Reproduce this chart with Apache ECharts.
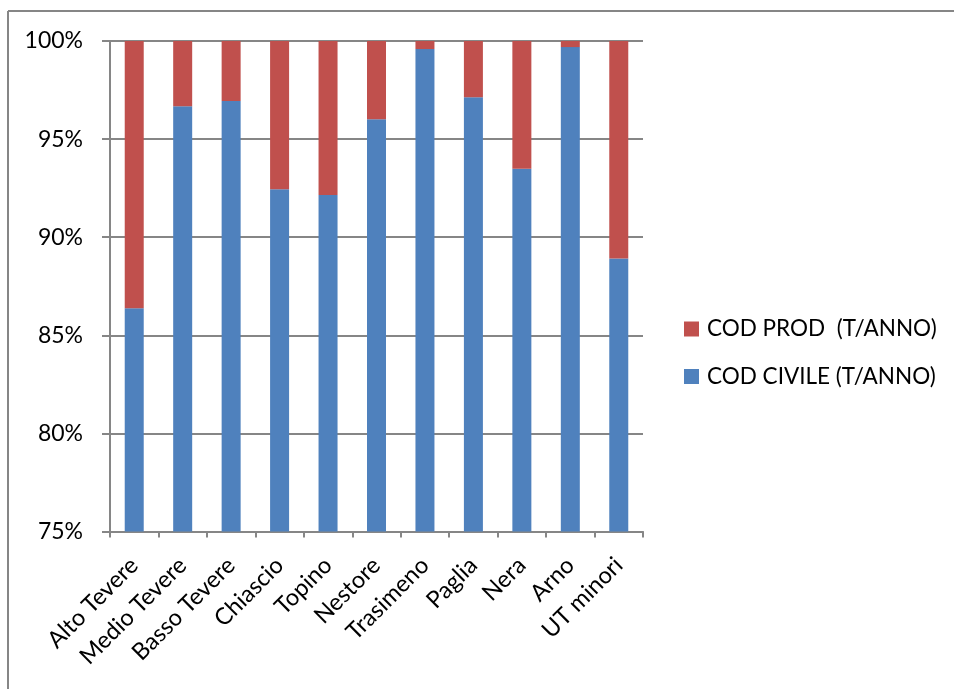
<!DOCTYPE html>
<html>
<head>
<meta charset="utf-8">
<script src="https://cdn.jsdelivr.net/npm/echarts@6/dist/echarts.min.js"></script>
<style>
  html, body { margin: 0; padding: 0; background: #fff; }
  #chart { width: 954px; height: 689px; }
</style>
</head>
<body>
<div id="chart"></div>
<script>
// Sub-basins
const categories = ['Alto Tevere', 'Medio Tevere', 'Basso Tevere', 'Chiascio', 'Topino',
  'Nestore', 'Trasimeno', 'Paglia', 'Nera', 'Arno', 'UT minori'];

// Share of COD load (%) per sub-basin
const codCivile = [86.38, 96.67, 96.94, 92.44, 92.15, 96.01, 99.59, 97.13, 93.49, 99.69, 88.92];
const codProd   = [13.62, 3.33, 3.06, 7.56, 7.85, 3.99, 0.41, 2.87, 6.51, 0.31, 11.08];

const seriesNames = ['COD CIVILE (T/ANNO)', 'COD PROD  (T/ANNO)'];
const yTicks = { min: 75, max: 100, step: 5 };

const FONT = 'Lato, "Open Sans", sans-serif';
const GRID_COLOR = '#868686';

const chart = echarts.init(document.getElementById('chart'), null, { renderer: 'canvas' });
chart.setOption({
  backgroundColor: '#ffffff',
  animation: false,
  // chart-area frame (top and left edges)
  graphic: [
    { type: 'line', shape: { x1: 8, y1: 11, x2: 960, y2: 11 },
      style: { stroke: GRID_COLOR, lineWidth: 2 }, silent: true },
    { type: 'line', shape: { x1: 8, y1: 11, x2: 8, y2: 700 },
      style: { stroke: GRID_COLOR, lineWidth: 2 }, silent: true }
  ],
  grid: { left: 110, right: 311, top: 41, bottom: 157.5, containLabel: false },
  legend: {
    orient: 'vertical',
    left: 684, top: 317,
    padding: 0,
    itemWidth: 15, itemHeight: 15,
    itemGap: 23.5,
    icon: 'rect',
    data: [seriesNames[1], seriesNames[0]],
    textStyle: { fontFamily: FONT, fontSize: 22.5, lineHeight: 24, color: '#000', padding: [0, 0, 0, 3] }
  },
  xAxis: {
    type: 'category',
    data: categories,
    axisLine: { lineStyle: { color: GRID_COLOR, width: 2 } },
    axisTick: { show: true, length: 6, alignWithLabel: false, lineStyle: { color: GRID_COLOR, width: 2 } },
    axisLabel: { rotate: 45, fontFamily: FONT, fontSize: 23.5, color: '#000', margin: 30, interval: 0 }
  },
  yAxis: {
    type: 'value',
    min: yTicks.min, max: yTicks.max, interval: yTicks.step,
    axisLine: { show: true, lineStyle: { color: GRID_COLOR, width: 2 } },
    axisTick: { show: true, length: 8, lineStyle: { color: GRID_COLOR, width: 2 } },
    splitLine: { lineStyle: { color: GRID_COLOR, width: 2 } },
    axisLabel: { formatter: '{value}%', fontFamily: FONT, fontSize: 23, color: '#000', margin: 27 }
  },
  series: [
    {
      name: seriesNames[0], type: 'bar', stack: 'cod',
      data: codCivile, barWidth: 19,
      itemStyle: { color: '#4F81BD' }
    },
    {
      name: seriesNames[1], type: 'bar', stack: 'cod',
      data: codProd, barWidth: 19,
      itemStyle: { color: '#C0504D' }
    }
  ]
});
</script>
</body>
</html>
